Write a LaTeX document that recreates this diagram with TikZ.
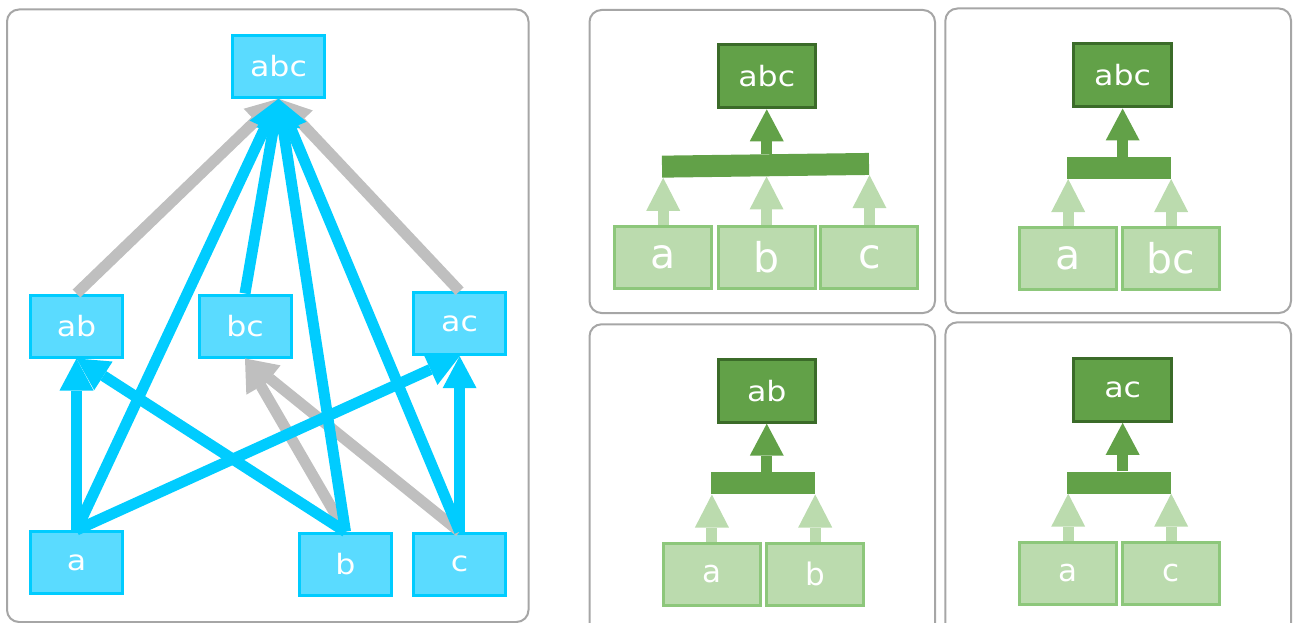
\documentclass[tikz,border=0pt]{standalone}
\usepackage{fontspec}
\setmainfont{DejaVuSans.ttf}
\usepackage{graphicx}
\usetikzlibrary{arrows.meta}
\definecolor{cyanfill}{HTML}{5ADBFF}
\definecolor{cyanline}{HTML}{00CCFF}
\definecolor{edgegray}{HTML}{BFBFBF}
\definecolor{darkfill}{HTML}{62A148}
\definecolor{darkline}{HTML}{3B6B29}
\definecolor{lightfill}{HTML}{BBDBAE}
\definecolor{lightline}{HTML}{8DC77B}
\definecolor{panelgray}{HTML}{A6A6A6}
\newcommand{\wtxt}[1]{\scalebox{1.13}[1]{#1}}
\begin{document}
\begin{tikzpicture}[x=1pt,y=-1pt,
  panel/.style={draw=panelgray,line width=2pt,rounded corners=12pt},
  cbox/.style={draw=cyanline,fill=cyanfill,line width=3pt,minimum width=92pt,minimum height=62pt,inner sep=0pt,text=white,font=\fontsize{28}{33}\selectfont},
  dbox/.style={draw=darkline,fill=darkfill,line width=3pt,minimum width=97.5pt,minimum height=63pt,inner sep=0pt,text=white,font=\fontsize{28}{33}\selectfont},
  lbox/.style={draw=lightline,fill=lightfill,line width=3pt,minimum width=97pt,minimum height=62pt,inner sep=0pt,text=white},
  bigtxt/.style={font=\fontsize{41}{48}\selectfont},
  midtxt/.style={font=\fontsize{31}{36}\selectfont},
  bar/.style={fill=darkfill,draw=none,minimum height=22pt,inner sep=0pt},
  bluearrow/.style={draw=cyanline,line width=11pt,-{Triangle[length=32pt,width=34pt,line width=0pt]}},
  grayarrow/.style={draw=edgegray,line width=11pt,-{Triangle[length=32pt,width=34pt,line width=0pt]}},
  darkarrow/.style={draw=darkfill,line width=11pt,-{Triangle[length=32pt,width=34pt,line width=0pt]}},
  lightarrow/.style={draw=lightfill,line width=11pt,-{Triangle[length=33pt,width=34pt,line width=0pt]}}
]
\useasboundingbox (0,0) rectangle (1293,623);
\clip (0,0) rectangle (1293,623);

% panels
\draw[panel] (7,9.5) rectangle (528.5,622);
\draw[panel] (589.5,10) rectangle (935,313);
\draw[panel] (945.4,8.5) rectangle (1291,313);
\draw[panel] (589.5,324.3) rectangle (935,640);
\draw[panel] (945.4,322.3) rectangle (1291,640);

% left lattice
\node[cbox] (Labc) at (278.5,66.3) {\wtxt{abc}};
\node[cbox] (Lab) at (76.5,326) {\wtxt{ab}};
\node[cbox] (Lbc) at (245,326) {\wtxt{bc}};
\node[cbox] (Lac) at (459.6,323.7) {\wtxt{ac}};
\node[cbox] (La) at (76.5,562.5) {\wtxt{a}};
\node[cbox] (Lb) at (345.5,564.2) {\wtxt{b}};
\node[cbox] (Lc) at (459.6,564.2) {\wtxt{c}};

\draw[grayarrow] (Lab.north) -- (Labc.south);
\draw[grayarrow] (Lac.north) -- (Labc.south);
\draw[grayarrow] (Lb.north) -- (Lbc.south);
\draw[grayarrow] (Lc.north) -- (Lbc.south);

\draw[bluearrow] (Lbc.north) -- (Labc.south);
\draw[bluearrow] (La.north) -- (Labc.south);
\draw[bluearrow] (Lb.north) -- (Labc.south);
\draw[bluearrow] (Lc.north) -- (Labc.south);
\draw[bluearrow] (La.north) -- (Lab.south);
\draw[bluearrow] (Lb.north) -- (Lab.south);
\draw[bluearrow] (La.north) -- (Lac.south);
\draw[bluearrow] (Lc.north) -- (Lac.south);

% top-left panel: abc from a, b, c
\node[dbox] (TLd) at (766.75,76.3) {\wtxt{abc}};
\node[bar,minimum width=207pt,rotate=0.75] (TLbar) at (765.5,165.3) {};
\node[lbox,bigtxt] (TLa) at (663.2,257.5) {a};
\node[lbox,bigtxt] (TLb) at (766.55,257.5) {b};
\node[lbox,bigtxt] (TLc) at (869.45,257.5) {c};
\draw[lightarrow] (TLa.north) -- (TLa.north |- TLbar.south west);
\draw[lightarrow] (TLb.north) -- (TLb.north |- TLbar.south);
\draw[lightarrow] (TLc.north) -- (TLc.north |- TLbar.south east);
\draw[darkarrow] (TLd.south |- TLbar.north) -- (TLd.south);

% top-right panel: abc from a, bc
\node[dbox] (TRd) at (1122.65,75.5) {\wtxt{abc}};
\node[bar,minimum width=104pt] (TRbar) at (1119,167.85) {};
\node[lbox,bigtxt] (TRa) at (1068.2,258.5) {a};
\node[lbox,bigtxt] (TRbc) at (1171.15,258.5) {bc};
\draw[lightarrow] (TRa.north) -- (TRa.north |- TRbar.south west);
\draw[lightarrow] (TRbc.north) -- (TRbc.north |- TRbar.south east);
\draw[darkarrow] (TRd.south |- TRbar.north) -- (TRd.south);

% bottom-left panel: ab from a, b
\node[dbox] (BLd) at (766.75,390.7) {\wtxt{ab}};
\node[bar,minimum width=104pt] (BLbar) at (763.2,483.3) {};
\node[lbox,midtxt] (BLa) at (711.9,574.2) {a};
\node[lbox,midtxt] (BLb) at (815.2,574.2) {b};
\draw[lightarrow] (BLa.north) -- (BLa.north |- BLbar.south west);
\draw[lightarrow] (BLb.north) -- (BLb.north |- BLbar.south east);
\draw[darkarrow] (BLd.south |- BLbar.north) -- (BLd.south);

% bottom-right panel: ac from a, c
\node[dbox] (BRd) at (1122.65,389.85) {\wtxt{ac}};
\node[bar,minimum width=104pt] (BRbar) at (1119,482.5) {};
\node[lbox,midtxt] (BRa) at (1068.2,573) {a};
\node[lbox,midtxt] (BRc) at (1171.15,573) {c};
\draw[lightarrow] (BRa.north) -- (BRa.north |- BRbar.south west);
\draw[lightarrow] (BRc.north) -- (BRc.north |- BRbar.south east);
\draw[darkarrow] (BRd.south |- BRbar.north) -- (BRd.south);
\end{tikzpicture}
\end{document}
